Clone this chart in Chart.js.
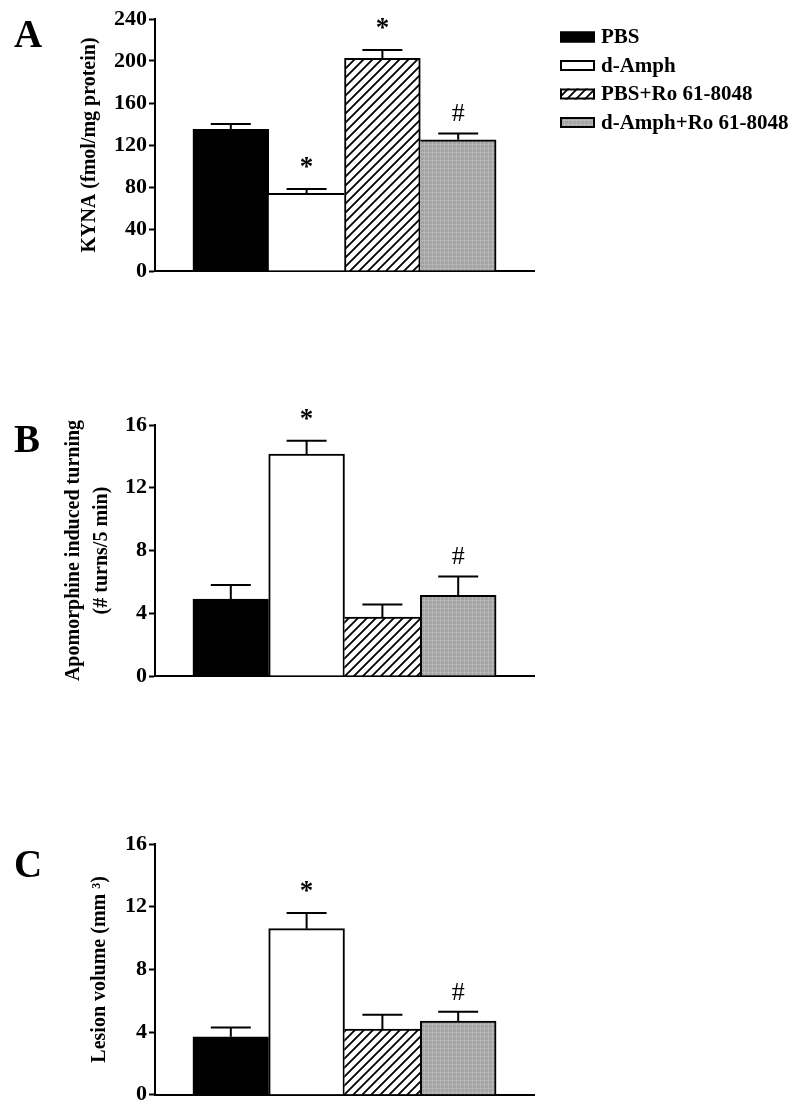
<!DOCTYPE html>
<html>
<head>
<meta charset="utf-8">
<script src="https://cdn.jsdelivr.net/npm/chart.js@4.4.1/dist/chart.umd.min.js"></script>
<style>
  body { margin: 0; background: #fff; }
  #fig { position: relative; width: 800px; height: 1110px; background: #fff; }
  .panel { position: absolute; left: 0; width: 800px; }
</style>
</head>
<body>
<div id="fig">
  <div class="panel" style="top:0;height:300px"><canvas id="chartA"></canvas></div>
  <div class="panel" style="top:400px;height:300px"><canvas id="chartB"></canvas></div>
  <div class="panel" style="top:800px;height:310px"><canvas id="chartC"></canvas></div>
</div>
<script>
// treatment groups, same order in all three panels
const groups = ['PBS', 'd-Amph', 'PBS+Ro 61-8048', 'd-Amph+Ro 61-8048'];

// A - KYNA
const kynaMean = [135, 74, 202.5, 125];
const kynaSem = [5, 4, 8, 6];
const kynaMarks = ['', '*', '*', '#'];
const kynaTicks = [0, 40, 80, 120, 160, 200, 240];

// B - apomorphine induced turning
const turnMean = [4.9, 14.15, 3.75, 5.15];
const turnSem = [0.9, 0.85, 0.8, 1.2];
const turnMarks = ['', '*', '', '#'];
const turnTicks = [0, 4, 8, 12, 16];

// C - lesion volume
const lesionMean = [3.7, 10.6, 4.2, 4.7];
const lesionSem = [0.6, 1.0, 0.9, 0.6];
const lesionMarks = ['', '*', '', '#'];
const lesionTicks = [0, 4, 8, 12, 16];

const SERIF = '"Liberation Serif", "Times New Roman", serif';

// bar fills: solid black, white, diagonal hatch, gray stipple
function hatchFill() {
    var c = document.createElement('canvas');
    c.width = c.height = 9;
    var g = c.getContext('2d');
    g.fillStyle = '#fff';
    g.fillRect(0, 0, 9, 9);
    g.strokeStyle = '#000';
    g.lineWidth = 1.8;
    g.beginPath();
    g.moveTo(-1, 10); g.lineTo(10, -1);
    g.moveTo(-1, 1); g.lineTo(1, -1);
    g.moveTo(8, 10); g.lineTo(10, 8);
    g.stroke();
    return g.createPattern(c, 'repeat');
}
function stippleFill() {
    var c = document.createElement('canvas');
    c.width = c.height = 4;
    var g = c.getContext('2d');
    g.fillStyle = '#a3a3a3';
    g.fillRect(0, 0, 4, 4);
    g.fillStyle = '#b6b6b6';
    g.fillRect(0, 0, 4, 1);
    g.fillRect(0, 0, 1, 4);
    return g.createPattern(c, 'repeat');
}
const fills = ['#000', '#fff', hatchFill(), stippleFill()];

// the taller of two touching bars draws the shared edge
function barBorder(c) {
    const vals = c.dataset.data.map(d => d.y);
    const i = c.dataIndex;
    const last = vals.length - 1;
    return {
        top: 2,
        bottom: 0,
        left: (i === 0 || vals[i] > vals[i - 1]) ? 2 : 0,
        right: (i === last || vals[i] >= vals[i + 1]) ? 2 : 0
    };
}

// SEM whiskers (upward only) plus the * / # marks above them
const errorBars = {
    id: 'errorBars',
    afterDatasetsDraw(chart) {
        const ctx = chart.ctx;
        const y = chart.scales.y;
        const ds = chart.data.datasets[0];
        const meta = chart.getDatasetMeta(0);
        ctx.save();
        ctx.strokeStyle = '#000';
        ctx.fillStyle = '#000';
        ctx.lineWidth = 2;
        meta.data.forEach((bar, i) => {
            const top = y.getPixelForValue(ds.data[i].y);
            const cap = y.getPixelForValue(ds.data[i].y + ds.sem[i]);
            ctx.beginPath();
            ctx.moveTo(bar.x, top);
            ctx.lineTo(bar.x, cap);
            ctx.moveTo(bar.x - 20, cap);
            ctx.lineTo(bar.x + 20, cap);
            ctx.stroke();
            const m = ds.marks[i];
            if (m) {
                ctx.font = (m === '*' ? 'bold 27px ' : '26px ') + SERIF;
                ctx.textAlign = 'center';
                ctx.textBaseline = 'alphabetic';
                ctx.fillText(m, bar.x, cap - (m === '*' ? 14 : 12));
            }
        });
        ctx.restore();
    }
};

// big panel letter (A, B, C)
const panelLabel = {
    id: 'panelLabel',
    afterDraw(chart, args, opts) {
        const ctx = chart.ctx;
        ctx.save();
        ctx.font = 'bold 39px ' + SERIF;
        ctx.fillStyle = '#000';
        ctx.textBaseline = 'alphabetic';
        ctx.fillText(opts.text, opts.x, opts.y);
        ctx.restore();
    }
};

// legend at the upper right of the figure, drawn in panel A's canvas
const figLegend = {
    id: 'figLegend',
    afterDraw(chart, args, opts) {
        const ctx = chart.ctx;
        const ds = chart.data.datasets[0];
        ctx.save();
        ctx.font = 'bold 21px ' + SERIF;
        ctx.textBaseline = 'middle';
        ctx.lineWidth = 2;
        chart.data.labels.forEach((name, i) => {
            const cy = opts.top + i * opts.rowGap;
            ctx.fillStyle = ds.backgroundColor[i];
            ctx.fillRect(opts.left, cy - 5.5, 35, 11);
            ctx.strokeStyle = '#000';
            ctx.strokeRect(opts.left + 1, cy - 4.5, 33, 9);
            ctx.fillStyle = '#000';
            ctx.fillText(name, opts.left + 41, cy + 1);
        });
        ctx.restore();
    }
};

function makePanel(id, p) {
    return new Chart(document.getElementById(id), {
        type: 'bar',
        data: {
            labels: groups,
            datasets: [{
                data: p.mean.map((v, i) => ({ x: i + 1, y: v })),
                sem: p.sem,
                marks: p.marks,
                backgroundColor: fills,
                borderColor: '#000',
                borderWidth: barBorder,
                borderSkipped: false,
                barPercentage: 1,
                categoryPercentage: 1
            }]
        },
        options: {
            responsive: true,
            maintainAspectRatio: false,
            animation: false,
            layout: { padding: p.padding },
            plugins: {
                legend: { display: false },
                tooltip: { enabled: false },
                panelLabel: p.letter,
                figLegend: p.legend || {}
            },
            scales: {
                x: {
                    type: 'linear',
                    min: 0,
                    max: groups.length + 1,
                    offset: false,
                    ticks: { display: false, stepSize: 1 },
                    grid: { display: false, offset: false },
                    border: { display: true, color: '#000', width: 2 },
                    afterFit: s => { s.height = 0; }
                },
                y: {
                    min: p.ticks[0],
                    max: p.ticks[p.ticks.length - 1],
                    ticks: {
                        stepSize: p.ticks[1] - p.ticks[0],
                        color: '#000',
                        padding: 2,
                        font: { family: SERIF, size: 22, weight: 'bold' }
                    },
                    grid: {
                        drawOnChartArea: false,
                        drawTicks: true,
                        tickLength: 6,
                        tickColor: '#000',
                        tickWidth: 2
                    },
                    border: { display: true, color: '#000', width: 2 },
                    title: {
                        display: true,
                        text: p.title,
                        color: '#000',
                        font: { family: SERIF, size: 20, weight: 'bold', lineHeight: p.titleLine || 1.2 },
                        padding: { top: p.titlePad, bottom: 0 }
                    },
                    afterFit: s => { s.width = 155; }
                }
            }
        },
        plugins: p.legend ? [errorBars, panelLabel, figLegend] : [errorBars, panelLabel]
    });
}

makePanel('chartA', {
    mean: kynaMean, sem: kynaSem, marks: kynaMarks, ticks: kynaTicks,
    title: 'KYNA (fmol/mg protein)', titlePad: 78,
    padding: { top: 19, bottom: 29, left: 0, right: 266 },
    letter: { text: 'A', x: 14, y: 47 },
    legend: { left: 560, top: 37, rowGap: 28.5 }
});

makePanel('chartB', {
    mean: turnMean, sem: turnSem, marks: turnMarks, ticks: turnTicks,
    title: ['Apomorphine induced turning', '(# turns/5 min)'], titlePad: 60, titleLine: 1.4,
    padding: { top: 25, bottom: 24, left: 0, right: 266 },
    letter: { text: 'B', x: 14, y: 52 }
});

makePanel('chartC', {
    mean: lesionMean, sem: lesionSem, marks: lesionMarks, ticks: lesionTicks,
    title: 'Lesion volume (mm \u00B3)', titlePad: 88,
    padding: { top: 44, bottom: 14, left: 0, right: 266 },
    letter: { text: 'C', x: 14, y: 77 }
});
</script>
</body>
</html>
